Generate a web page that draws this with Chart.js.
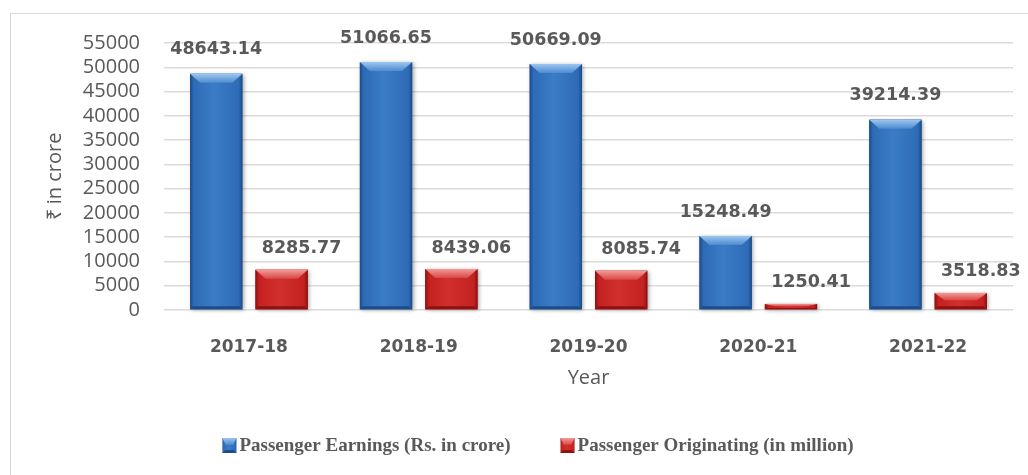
<!DOCTYPE html>
<html>
<head>
<meta charset="utf-8">
<script src="https://cdn.jsdelivr.net/npm/chart.js@4.4.1/dist/chart.umd.min.js"></script>
<style>
html,body{margin:0;padding:0;background:#fff;overflow:hidden}
#wrap{position:relative;width:1028px;height:475px}
#frame{position:absolute;left:10px;top:13px;width:1100px;height:700px;border:1px solid #d9d9d9;box-sizing:border-box}
canvas{position:absolute;left:0;top:0}
</style>
</head>
<body>
<div id="wrap"><div id="frame"></div><canvas id="c" width="1028" height="475"></canvas></div>
<script>
// data
const years=['2017-18','2018-19','2019-20','2020-21','2021-22'];
const earnings=[48643.14,51066.65,50669.09,15248.49,39214.39];
const originating=[8285.77,8439.06,8085.74,1250.41,3518.83];
const yTicks=[0,5000,10000,15000,20000,25000,30000,35000,40000,45000,50000,55000];
const seriesNames=['Passenger Earnings (Rs. in crore)','Passenger Originating (in million)'];

const GREY='#595959';
const PAL=[
  {mid:'#2e6bb6',light:'#3a7cc6',edge:'#1b4a86',top1:'#9cc6f0',top2:'#4f8ad0',bottom:'#1d4c8a'},
  {mid:'#c42120',light:'#d0302d',edge:'#8a1010',top1:'#f29a98',top2:'#d94744',bottom:'#8e1212'}
];
const LBL_OFF=[{dx:0,dy:-24},{dx:20,dy:-21}];

function drawBevelBar(ctx,l,t,r,b,p,shadow){
  const w=r-l,h=b-t;if(h<=0)return;
  ctx.save();
  if(shadow){ctx.shadowColor='rgba(0,0,0,0.35)';ctx.shadowBlur=4;ctx.shadowOffsetX=1.5;ctx.shadowOffsetY=1}
  const g=ctx.createLinearGradient(l,0,r,0);
  g.addColorStop(0,p.edge);g.addColorStop(0.07,p.mid);g.addColorStop(0.45,p.light);g.addColorStop(0.93,p.mid);g.addColorStop(1,p.edge);
  ctx.fillStyle=g;ctx.fillRect(l,t,w,h);
  ctx.restore();
  const d=Math.min(9,h*0.45),s=Math.min(10,w*0.22);
  // top bevel
  const tg=ctx.createLinearGradient(0,t,0,t+d);
  tg.addColorStop(0,p.top1);tg.addColorStop(1,p.top2);
  ctx.fillStyle=tg;
  ctx.beginPath();ctx.moveTo(l,t);ctx.lineTo(r,t);ctx.lineTo(r-s,t+d);ctx.lineTo(l+s,t+d);ctx.closePath();ctx.fill();
  // bottom edge
  const bd=Math.min(3,h*0.25);
  ctx.fillStyle=p.bottom;
  ctx.beginPath();ctx.moveTo(l,b);ctx.lineTo(r,b);ctx.lineTo(r-bd,b-bd);ctx.lineTo(l+bd,b-bd);ctx.closePath();ctx.fill();
}

const bevel={id:'bevel',afterDatasetsDraw(chart){
  const ctx=chart.ctx;
  chart.data.datasets.forEach((ds,di)=>{
    chart.getDatasetMeta(di).data.forEach(el=>{
      const {x,y,base,width}=el.getProps(['x','y','base','width'],true);
      drawBevelBar(ctx,x-width/2,y,x+width/2,base,PAL[di],true);
    });
  });
}};

const valueLabels={id:'valueLabels',afterDraw(chart){
  const ctx=chart.ctx;ctx.save();
  ctx.font='bold 17.5px "DejaVu Sans"';ctx.fillStyle=GREY;ctx.textAlign='center';ctx.textBaseline='middle';
  chart.data.datasets.forEach((ds,di)=>{
    chart.getDatasetMeta(di).data.forEach((el,i)=>{
      const o=LBL_OFF[di];
      ctx.fillText(ds.data[i].toFixed(2),el.x+o.dx,el.y+o.dy);
    });
  });
  ctx.restore();
}};

const legendBottom={id:'legendBottom',afterDraw(chart){
  const ctx=chart.ctx;ctx.save();
  ctx.font='bold 19px "Liberation Serif"';ctx.fillStyle=GREY;ctx.textBaseline='middle';ctx.textAlign='left';
  const box=14,gapBox=3,gapItem=50,cy=445;
  const ws=seriesNames.map(t=>ctx.measureText(t).width);
  const total=ws.reduce((a,w)=>a+box+gapBox+w,0)+gapItem*(ws.length-1);
  let x=538-total/2;
  seriesNames.forEach((t,i)=>{
    drawBevelBar(ctx,x,cy-7,x+box,cy+8,PAL[i],false);
    ctx.fillStyle=GREY;
    ctx.fillText(t,x+box+gapBox,cy+1);
    x+=box+gapBox+ws[i]+gapItem;
  });
  ctx.restore();
}};

new Chart(document.getElementById('c'),{
  type:'bar',
  data:{labels:years,datasets:[
    {label:seriesNames[0],data:earnings,backgroundColor:PAL[0].mid,categoryPercentage:0.77,barPercentage:0.8},
    {label:seriesNames[1],data:originating,backgroundColor:PAL[1].mid,categoryPercentage:0.77,barPercentage:0.8}
  ]},
  options:{
    responsive:false,animation:false,
    layout:{padding:{left:10,right:15,top:43,bottom:75}},
    plugins:{legend:{display:false},tooltip:{enabled:false}},
    scales:{
      x:{
        grid:{display:false},border:{display:false},
        ticks:{color:GREY,font:{family:'DejaVu Sans',weight:'bold',size:17},padding:19},
        title:{display:true,text:'Year',color:GREY,font:{family:'Open Sans',size:20},padding:{top:0,bottom:10}},
        afterFit(s){s.height=90}
      },
      y:{
        min:0,max:55000,z:1,
        afterBuildTicks(s){s.ticks=yTicks.map(v=>({value:v}))},
        grid:{color:'rgba(190,190,190,0.55)',drawTicks:false,lineWidth:1.5},
        border:{display:false},
        ticks:{color:GREY,font:{family:'Open Sans',size:20},padding:24,autoSkip:false,callback:v=>String(v)},
        title:{display:true,text:'₹ in crore',color:GREY,font:{family:'Open Sans',size:20},padding:{top:33,bottom:0}},
        afterFit(s){s.width=154}
      }
    }
  },
  plugins:[bevel,valueLabels,legendBottom]
});
</script>
</body>
</html>
